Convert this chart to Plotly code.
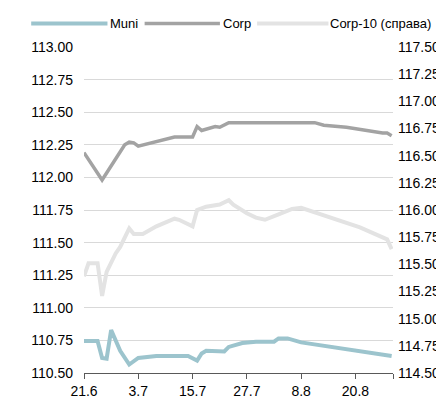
import plotly.graph_objects as go
import pandas as pd

# ---------------- data ----------------
start_date = "2019-06-21"
tick_days = [0, 12, 24, 36, 48, 60]
tick_labels = ["21.6", "3.7", "15.7", "27.7", "8.8", "20.8"]

muni_days = [0, 3, 4, 5, 6, 7, 8, 10, 11, 12, 16, 23, 25, 26, 27, 31, 32, 35, 38, 42, 43, 45, 48, 56, 61, 68]
muni_vals = [110.745, 110.745, 110.615, 110.61, 110.83, 110.75, 110.67, 110.565, 110.595, 110.615, 110.63,
             110.63, 110.595, 110.65, 110.67, 110.665, 110.70, 110.73, 110.74, 110.74, 110.765, 110.765,
             110.735, 110.695, 110.67, 110.63]

corp_days = [0, 4, 9, 10, 11, 12, 20, 24, 25, 26, 29, 30, 32, 51, 53, 58, 66, 67, 68]
corp_vals = [112.19, 111.98, 112.25, 112.27, 112.265, 112.24, 112.31, 112.31, 112.39, 112.36, 112.39,
             112.385, 112.42, 112.42, 112.40, 112.385, 112.34, 112.34, 112.32]

corp10_days = [0, 1, 3, 4, 5, 6, 7, 8, 9, 10, 11, 13, 16, 20, 21, 24, 25, 27, 30, 32, 33, 36, 38, 40,
               43, 46, 48, 51, 57, 61, 67, 68]
corp10_vals = [115.39, 115.51, 115.51, 115.21, 115.43, 115.51, 115.60, 115.66, 115.75, 115.83, 115.78,
               115.78, 115.85, 115.92, 115.91, 115.85, 116.00, 116.03, 116.05, 116.09, 116.05, 115.97,
               115.93, 115.91, 115.96, 116.01, 116.02, 115.98, 115.90, 115.84, 115.73, 115.64]

series_names = ["Muni", "Corp", "Corp-10 (справа)"]
series_colors = ["#9cc4cd", "#a3a3a3", "#e3e3e3"]

# ---------------- helpers ----------------
start = pd.Timestamp(start_date)


def to_dates(days):
    return [start + pd.Timedelta(days=d) for d in days]


W, H = 444, 403
PL, PR, PT, PB = 76, 392, 39, 372   # plot area in pixels
x_end = start + pd.Timedelta(hours=68.3 * 24)


def px_x(px):
    return (px - PL) / (PR - PL)


def px_y(py):
    return (PB - py) / (PB - PT)


fig = go.Figure()

fig.add_trace(go.Scatter(x=to_dates(corp10_days), y=corp10_vals, yaxis="y2", mode="lines",
                         name=series_names[2], line=dict(color=series_colors[2], width=4)))
fig.add_trace(go.Scatter(x=to_dates(muni_days), y=muni_vals, mode="lines",
                         name=series_names[0], line=dict(color=series_colors[0], width=4)))
fig.add_trace(go.Scatter(x=to_dates(corp_days), y=corp_vals, mode="lines",
                         name=series_names[1], line=dict(color=series_colors[1], width=3.5)))

tickvals = to_dates(tick_days) + [x_end]
ticktext = tick_labels + [""]

font = dict(family="Liberation Sans, Arial, sans-serif", size=13, color="#000000")
tfont = dict(family="Liberation Sans, Arial, sans-serif", size=14, color="#000000")

fig.update_layout(
    width=W, height=H,
    margin=dict(l=PL, r=W - PR, t=PT, b=H - PB, pad=0),
    paper_bgcolor="white", plot_bgcolor="white",
    showlegend=False,
    font=font,
    xaxis=dict(type="date", range=[start, x_end], tickvals=tickvals, ticktext=ticktext,
               showgrid=False, showline=True, linecolor="#595959", linewidth=1,
               ticks="outside", ticklen=5, tickcolor="#595959", tickwidth=1,
               zeroline=False, tickfont=tfont),
    yaxis=dict(range=[110.5, 113.0], dtick=0.25, tick0=110.5, tickformat=".2f",
               showgrid=True, gridcolor="#d9d9d9", gridwidth=1, zeroline=False,
               showline=False, ticks="", ticklabelstandoff=10, tickfont=tfont),
    yaxis2=dict(range=[114.5, 117.5], dtick=0.25, tick0=114.5, tickformat=".2f",
                overlaying="y", side="right", showgrid=False, zeroline=False,
                showline=False, ticks="", ticklabelstandoff=4, tickfont=tfont),
)

# manual legend (long line samples as in the reference)
legend_items = [(22, 100, 103), (138, 215, 218), (253, 326, 328)]
legend_widths = [4, 3.5, 4]
ly = px_y(15)
for (x0, x1, xt), name, color, lw in zip(legend_items, series_names, series_colors, legend_widths):
    fig.add_shape(type="line", xref="paper", yref="paper", x0=px_x(x0), x1=px_x(x1), y0=ly, y1=ly,
                  line=dict(color=color, width=lw))
    fig.add_annotation(xref="paper", yref="paper", x=px_x(xt), y=ly, text=name, showarrow=False,
                       xanchor="left", yanchor="middle", xshift=-2, font=font)

fig.write_html("out.html")
